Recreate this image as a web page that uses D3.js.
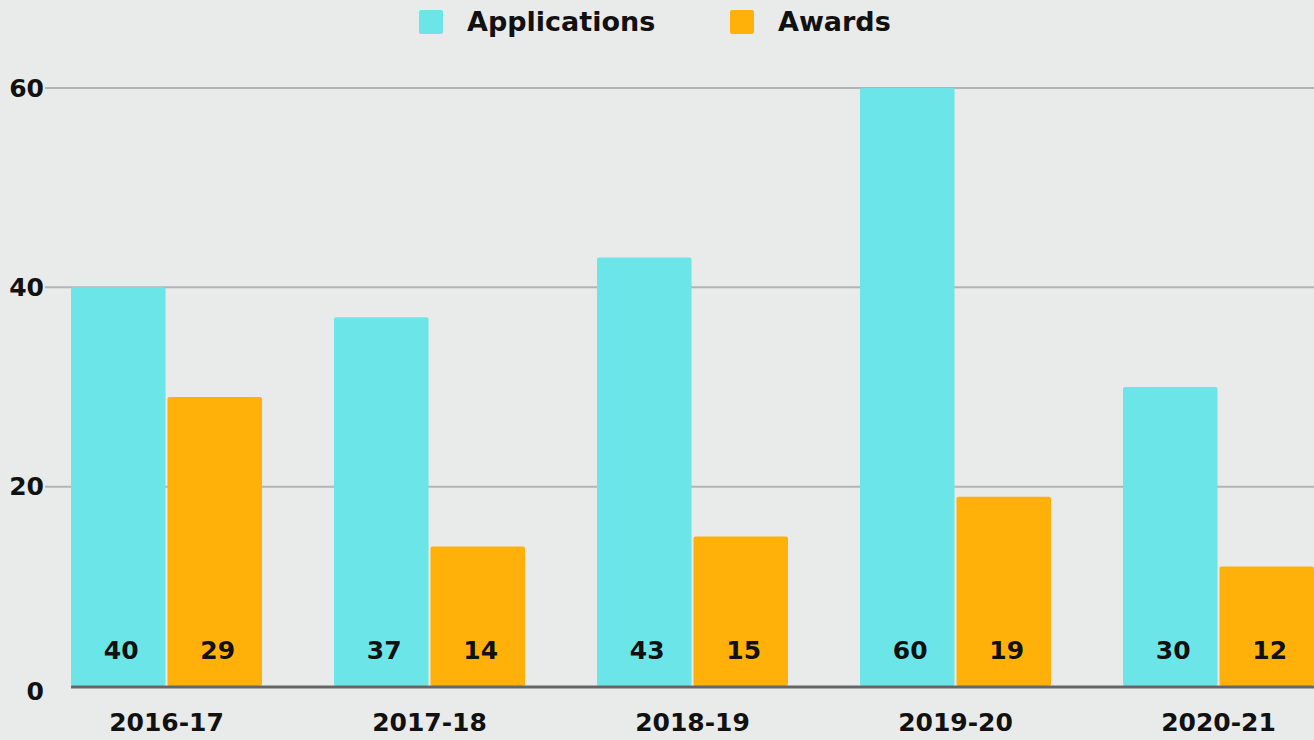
<!DOCTYPE html>
<html>
<head>
<meta charset="utf-8">
<script src="https://cdn.jsdelivr.net/npm/d3@7"></script>
<style>
  body { margin: 0; background: #e9ebea; }
  svg { display: block; font-family: "DejaVu Sans", Lato, sans-serif; font-weight: 700; }
</style>
</head>
<body>
<svg id="chart" width="1314" height="740"></svg>
<script>
var years = ["2016-17", "2017-18", "2018-19", "2019-20", "2020-21"];
var applications = [40, 37, 43, 60, 30];
var awards = [29, 14, 15, 19, 12];
var seriesNames = ["Applications", "Awards"];
var seriesColors = ["#6ce5e8", "#ffb10a"];
var yTicks = [0, 20, 40, 60];

var svg = d3.select("#chart");

var x = d3.scaleBand().domain(years).range([35, 1350]).paddingInner(0).paddingOuter(0);
var inner = d3.scaleBand().domain(seriesNames).range([36, 227]).paddingInner(0.02);
var y = d3.scaleLinear().domain([0, 60]).range([686, 88]);

// grid
svg.append("g").selectAll("line")
  .data(yTicks.filter(function(d) { return d > 0; }))
  .enter().append("line")
    .attr("x1", 45).attr("x2", 1314)
    .attr("y1", function(d) { return y(d); })
    .attr("y2", function(d) { return y(d); })
    .attr("stroke", "#b3b5b4")
    .attr("stroke-width", 2);

// y labels
svg.append("g").selectAll("text")
  .data(yTicks)
  .enter().append("text")
    .attr("x", 44)
    .attr("y", function(d) { return y(d); })
    .attr("dy", d => d === 0 ? "0.55em" : "0.35em")
    .attr("text-anchor", "end")
    .attr("font-size", 25)
    .attr("fill", "#111")
    .text(function(d) { return d; });

var rows = years.map(function(yr, i) {
  return { year: yr, vals: [applications[i], awards[i]] };
});

var groups = svg.append("g").selectAll("g")
  .data(rows)
  .enter().append("g")
    .attr("transform", function(d) { return "translate(" + x(d.year) + ",0)"; });

groups.selectAll("rect")
  .data(function(d) { return d.vals.map(function(v, j) { return { name: seriesNames[j], v: v, c: seriesColors[j] }; }); })
  .enter().append("rect")
    .attr("x", function(d) { return inner(d.name); })
    .attr("width", inner.bandwidth())
    .attr("y", function(d) { return y(d.v); })
    .attr("height", function(d) { return y(0) - y(d.v); })
    .attr("rx", 2)
    .attr("fill", function(d) { return d.c; });

groups.selectAll("text.val")
  .data(function(d) { return d.vals.map(function(v, j) { return { name: seriesNames[j], v: v }; }); })
  .enter().append("text")
    .attr("class", "val")
    .attr("x", function(d) { return inner(d.name) + inner.bandwidth() / 2 + 3; })
    .attr("y", 650)
    .attr("dy", "0.35em")
    .attr("text-anchor", "middle")
    .attr("font-size", 25)
    .attr("fill", "#111")
    .text(function(d) { return d.v; });

// baseline
svg.append("line")
  .attr("x1", 71).attr("x2", 1314)
  .attr("y1", y(0) + 1).attr("y2", y(0) + 1)
  .attr("stroke", "#666")
  .attr("stroke-width", 3);

// x labels
svg.append("g").selectAll("text")
  .data(years)
  .enter().append("text")
    .attr("x", function(d) { return x(d) + x.bandwidth() / 2; })
    .attr("y", 722)
    .attr("dy", "0.35em")
    .attr("text-anchor", "middle")
    .attr("font-size", 25)
    .attr("fill", "#111")
    .text(function(d) { return d; });

// legend
var legendX = [419, 730];
var leg = svg.append("g").selectAll("g")
  .data(seriesNames)
  .enter().append("g")
    .attr("transform", function(d, i) { return "translate(" + legendX[i] + ",10)"; });
leg.append("rect")
  .attr("width", 24).attr("height", 24).attr("rx", 2)
  .attr("fill", function(d, i) { return seriesColors[i]; });
leg.append("text")
  .attr("x", 48).attr("y", 12).attr("dy", "0.35em")
  .attr("font-size", 27)
  .attr("fill", "#111")
  .text(function(d) { return d; });
</script>
</body>
</html>
